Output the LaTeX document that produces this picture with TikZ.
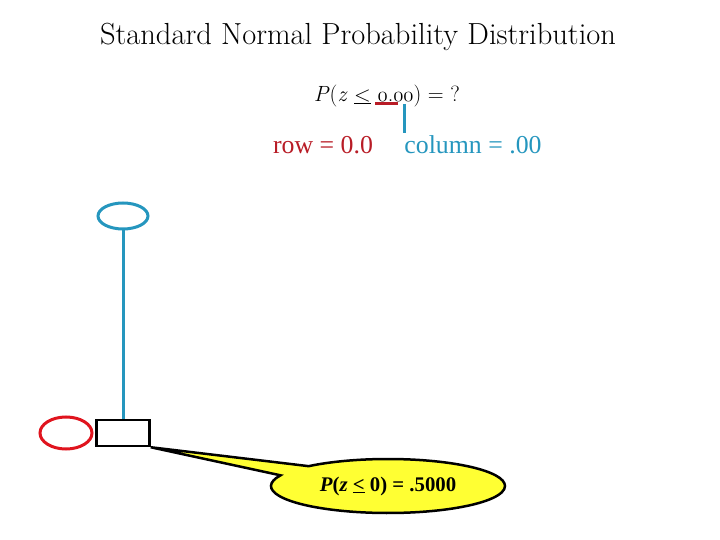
\documentclass[tikz,border=0pt]{standalone}
\usepackage{fontspec}
\usetikzlibrary{positioning,shapes.geometric,shapes.callouts}
\newfontfamily\bubblefont{Liberation Serif}
\newcommand\oldnum[1]{{\usefont{OML}{cmm}{m}{it}#1}}
\definecolor{RowRed}{HTML}{B81C26}
\definecolor{RingRed}{HTML}{E0141E}
\definecolor{ColBlue}{HTML}{2596BE}
\definecolor{Lemon}{HTML}{FFFF33}
\tikzset{
  heading/.style={font=\fontsize{30.5}{34}\selectfont, inner sep=0pt},
  query/.style={font=\fontsize{22}{26}\selectfont, inner sep=0pt},
  rowlab/.style={text=RowRed, font=\bubblefont\fontsize{25.8}{30}\selectfont, inner sep=0pt},
  collab/.style={text=ColBlue, font=\bubblefont\fontsize{25.8}{30}\selectfont, inner sep=0pt},
  ring/.style={ellipse, line width=3pt, minimum width=50pt, minimum height=26pt, inner sep=0pt},
  cellbox/.style={draw=black, line width=2.5pt, minimum width=53pt, minimum height=26pt, inner sep=0pt},
  bubble/.style={ellipse callout, fill=Lemon, draw=black, line width=2.5pt,
    minimum width=234pt, minimum height=54pt, inner sep=0pt, callout pointer arc=24,
    font=\bubblefont\bfseries\fontsize{20.8}{24}\selectfont},
  pointline/.style={line width=3pt}
}
\begin{document}
\begin{tikzpicture}[x=1pt,y=-1pt]
  \useasboundingbox (0,0) rectangle (720,540);
  \node[heading] (title) at (358,37) {Standard Normal Probability Distribution};
  \node[query] (prob) at (387,96) {\textit{P}(\textit{z} \underline{<} \oldnum{0}.\oldnum{00}) = ?};
  \node[rowlab] (row) at (323,145) {row = 0.0};
  \node[collab] (col) at (473,145) {column = .00};
  % pointers from the query to the labels
  \coordinate (rowA) at (375,104);
  \coordinate (rowB) at (398,104);
  \coordinate (colA) at (404,104);
  \coordinate (colB) at (404,133);
  \draw[pointline, RowRed] (rowA) -- (rowB);
  \draw[pointline, ColBlue] (colA) -- (colB);
  % table lookup
  \node[ring, draw=ColBlue] (colring) at (123,216) {};
  \node[cellbox] (cell) at (123,433) {};
  \node[ring, draw=RingRed, minimum width=52pt, minimum height=32pt] (rowring) at (66,433) {};
  \draw[pointline, ColBlue] (colring) -- (cell);
  \node[bubble, callout absolute pointer={(cell.south east)}] (answer) at (388,486)
    {\textit{P}(\textit{z} \underline{<} 0) = .5000\hspace{6pt}};
\end{tikzpicture}
\end{document}
